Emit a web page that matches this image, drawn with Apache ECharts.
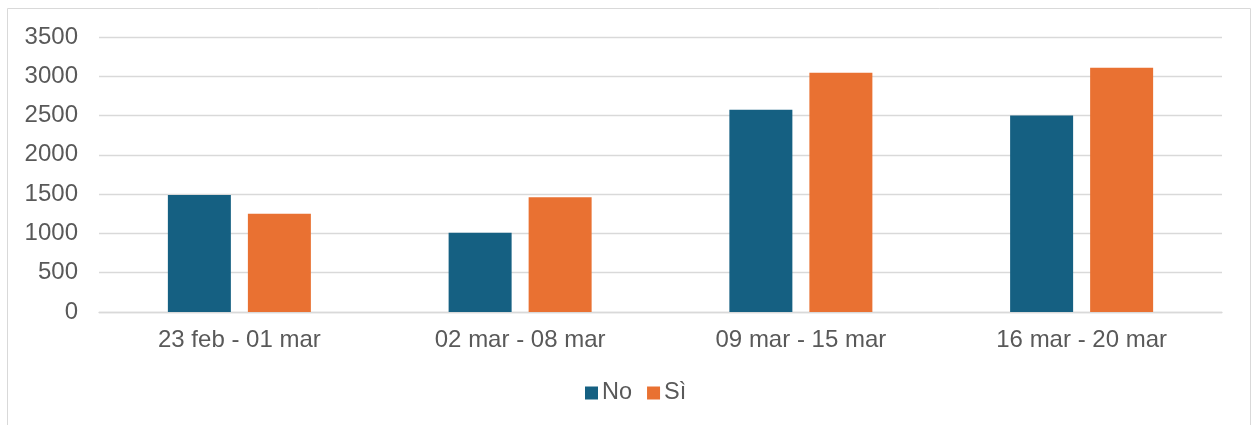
<!DOCTYPE html>
<html>
<head>
<meta charset="utf-8">
<title>No / Sì</title>
<script src="https://cdn.jsdelivr.net/npm/echarts@6/dist/echarts.min.js"></script>
<style>
  html, body { margin: 0; padding: 0; background: #fff; }
  #chart { width: 1252px; height: 425px; }
</style>
</head>
<body>
<div id="chart"></div>
<script>
// dati
const weeks = ['23 feb - 01 mar', '02 mar - 08 mar', '09 mar - 15 mar', '16 mar - 20 mar']
const noValues = [1490, 1010, 2575, 2500]
const siValues = [1250, 1460, 3045, 3110]
const yTicks = [0, 500, 1000, 1500, 2000, 2500, 3000, 3500]

const textColor = '#595959'
const fontFamily = '"Liberation Sans", Arial, sans-serif'

const chart = echarts.init(document.getElementById('chart'))

chart.setOption({
  animation: false,
  textStyle: { fontFamily: fontFamily },
  graphic: [{
    type: 'rect',
    shape: { x: 7.5, y: 8.5, width: 1243, height: 500 },
    style: { fill: 'none', stroke: '#d9d9d9', lineWidth: 1 },
    silent: true
  }],
  legend: {
    data: ['No', 'Sì'],
    left: 580,
    top: 376,
    icon: 'rect',
    itemWidth: 13,
    itemHeight: 13,
    itemGap: 15,
    textStyle: { color: textColor, fontSize: 23.5, fontFamily: fontFamily, padding: [0, 0, 0, -1] }
  },
  grid: {
    left: 99,
    right: 30,
    top: 37,
    bottom: 113
  },
  xAxis: [{
    type: 'category',
    data: weeks,
    axisTick: { show: false },
    axisLine: { lineStyle: { color: '#d9d9d9', width: 1.3 } },
    axisLabel: { color: textColor, fontSize: 24, margin: 16, fontFamily: fontFamily }
  }],
  yAxis: [{
    type: 'value',
    min: yTicks[0],
    max: yTicks[yTicks.length - 1],
    interval: 500,
    axisLine: { show: false },
    axisTick: { show: false },
    axisLabel: {
      color: textColor, fontSize: 24, margin: 21, fontFamily: fontFamily,
      formatter: function(v) { return String(v) }
    },
    splitLine: { lineStyle: { color: '#d9d9d9', width: 1.3 } }
  }],
  series: [{
    name: 'No',
    type: 'bar',
    data: noValues,
    barWidth: 63,
    barGap: '27%',
    itemStyle: { color: '#156082' }
  }, {
    name: 'Sì',
    type: 'bar',
    data: siValues,
    barWidth: 63,
    barGap: '27%',
    itemStyle: { color: '#e97132' }
  }]
})
</script>
</body>
</html>
